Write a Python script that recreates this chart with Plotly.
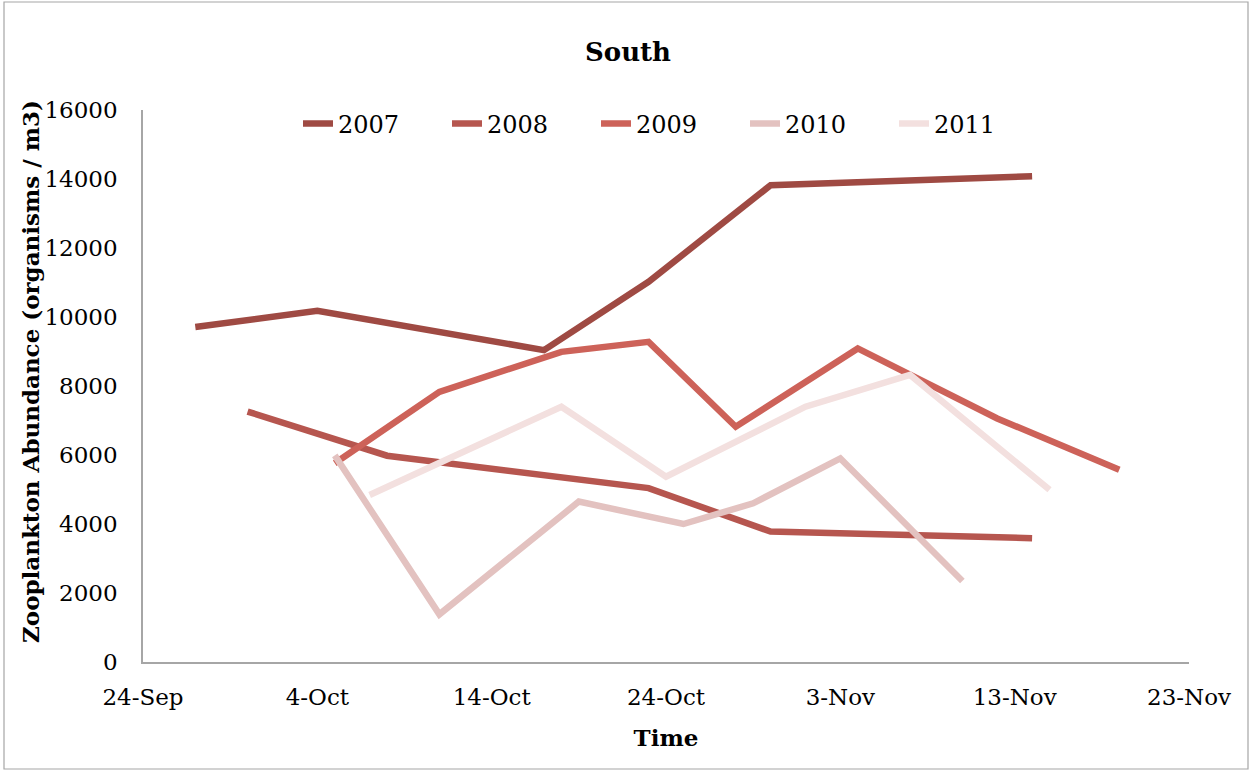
import pandas as pd
import plotly.graph_objects as go

YEAR = "2001"
series_names = ["2007", "2008", "2009", "2010", "2011"]

dates_2007 = ["27-Sep", "4-Oct", "17-Oct", "23-Oct", "30-Oct", "14-Nov"]
vals_2007 = [9710, 10180, 9040, 11020, 13820, 14080]

dates_2008 = ["30-Sep", "8-Oct", "23-Oct", "30-Oct", "14-Nov"]
vals_2008 = [7260, 5980, 5040, 3780, 3590]

dates_2009 = ["5-Oct", "11-Oct", "18-Oct", "23-Oct", "28-Oct", "4-Nov", "12-Nov", "19-Nov"]
vals_2009 = [5760, 7830, 8990, 9280, 6820, 9090, 7060, 5570]

dates_2010 = ["5-Oct", "11-Oct", "19-Oct", "25-Oct", "29-Oct", "3-Nov", "10-Nov"]
vals_2010 = [5990, 1380, 4650, 4000, 4600, 5900, 2350]

dates_2011 = ["7-Oct", "18-Oct", "24-Oct", "1-Nov", "7-Nov", "15-Nov"]
vals_2011 = [4840, 7400, 5370, 7400, 8320, 4990]

colors = ["#9F4A43", "#B6564F", "#CD6259", "#E3C2C0", "#F3E0DF"]

y_ticks = [0, 2000, 4000, 6000, 8000, 10000, 12000, 14000, 16000]
x_start, x_end = "24-Sep", "23-Nov"


def to_dt(labels):
    return pd.to_datetime([f"{d}-{YEAR}" for d in labels], format="%d-%b-%Y")


all_dates = [dates_2007, dates_2008, dates_2009, dates_2010, dates_2011]
all_vals = [vals_2007, vals_2008, vals_2009, vals_2010, vals_2011]

FONT = "DejaVu Serif"

fig = go.Figure()
for name, d, v, c in zip(series_names, all_dates, all_vals, colors):
    fig.add_trace(go.Scatter(
        x=to_dt(d), y=v, mode="lines", name=name,
        line=dict(color=c, width=6.5),
    ))

x0 = to_dt([x_start])[0]
x1 = to_dt([x_end])[0]

L, R, T, B = 143, 66, 110, 110
W, H = 1255, 772
pw, ph = W - L - R, H - T - B

fig.update_layout(
    width=W, height=H,
    margin=dict(l=L, r=R, t=T, b=B),
    paper_bgcolor="white", plot_bgcolor="white",
    font=dict(family=FONT, size=23, color="#000000"),
    title=dict(text="<b>South</b>", x=628 / W, xanchor="center",
               y=1 - 52 / H, yanchor="middle",
               font=dict(family=FONT, size=26, color="#000000")),
    showlegend=True,
    legend=dict(orientation="h", x=(298 - L) / pw, xanchor="left",
                y=1 - (124 - T) / ph, yanchor="middle",
                font=dict(family=FONT, size=24),
                entrywidth=104, entrywidthmode="pixels",
                bgcolor="rgba(0,0,0,0)", itemwidth=30),
    xaxis=dict(
        type="date", range=[x0, x1],
        tick0=x0, dtick=10 * 86400000, tickformat="%-d-%b",
        showgrid=False, zeroline=False,
        showline=True, linecolor="#A6A6A6", linewidth=1.5,
        ticks="", ticklabelstandoff=14,
        tickfont=dict(family=FONT, size=23),
        title=dict(text="<b>Time</b>", standoff=21,
                   font=dict(family=FONT, size=23)),
    ),
    yaxis=dict(
        range=[0, 16000], tickvals=y_ticks,
        ticktext=[str(t) for t in y_ticks],
        showgrid=False, zeroline=False,
        showline=True, linecolor="#A6A6A6", linewidth=1.5,
        ticks="", ticklabelstandoff=19,
        tickfont=dict(family=FONT, size=23),
    ),
    annotations=[dict(
        text="<b>Zooplankton Abundance (organisms / m3)</b>",
        xref="paper", yref="paper",
        x=(30 - L) / pw, y=(H - B - 372) / ph,
        xanchor="center", yanchor="middle", textangle=-90,
        showarrow=False, font=dict(family=FONT, size=23, color="#000000"),
    )],
    shapes=[dict(
        type="rect", xref="paper", yref="paper",
        x0=(4 - L) / pw, x1=(1248 - L) / pw,
        y0=(H - B - 769) / ph, y1=(H - B - 2) / ph,
        line=dict(color="#A6A6A6", width=1.2), fillcolor="rgba(0,0,0,0)",
        layer="below",
    )],
)

fig.write_html("out.html", config={"displayModeBar": False},
               post_script="document.body.style.margin='0';")
